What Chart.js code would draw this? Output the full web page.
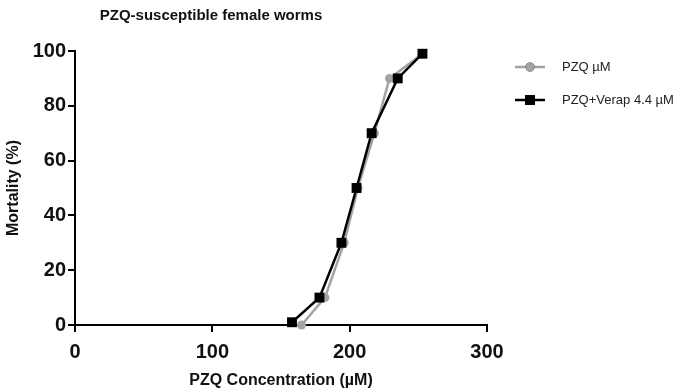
<!DOCTYPE html>
<html>
<head>
<meta charset="utf-8">
<script src="https://cdn.jsdelivr.net/npm/chart.js@4"></script>
<style>
    html, body { margin: 0; padding: 0; background: #fff; }
    #wrap { width: 694px; height: 392px; }
</style>
</head>
<body>
<div id="wrap"><canvas id="chart" width="694" height="392"></canvas></div>
<script>
let chartTitle = 'PZQ-susceptible female worms';
let xTitle = 'PZQ Concentration (µM)';
let yTitle = 'Mortality (%)';

// PZQ alone (grey circles)
let pzqConc = [165, 182, 196, 206, 218, 229, 253];
let pzqMort = [0, 10, 30, 50, 70, 90, 99];

// PZQ + verapamil 4.4 uM (black squares)
let verapConc = [158, 178, 194, 205, 216, 235, 253];
let verapMort = [1, 10, 30, 50, 70, 90, 99];

let xTicks = [0, 100, 200, 300];
let yTicks = [0, 20, 40, 60, 80, 100];

const fontFamily = '"Liberation Sans", Arial, sans-serif';

function toPoints(xs, ys) {
    let pts = [];
    for (let i = 0; i < xs.length; i++) {
        pts.push({ x: xs[i], y: ys[i] });
    }
    return pts;
}

const titlePlugin = {
    id: 'fixed_title',
    afterDraw: (chart) => {
        const ctx = chart.ctx;
        ctx.save();
        ctx.fillStyle = '#111';
        ctx.font = 'bold 15px ' + fontFamily;
        ctx.textAlign = 'center';
        ctx.textBaseline = 'middle';
        ctx.fillText(chartTitle, 211, 16);
        ctx.restore();
    }
};

const legendPlugin = {
    id: 'side_legend',
    afterDraw: (chart) => {
        const ctx = chart.ctx;
        const rows = [67, 100];
        ctx.save();
        chart.data.datasets.forEach((ds, i) => {
            let y = rows[i];
            ctx.strokeStyle = ds.borderColor;
            ctx.lineWidth = ds.borderWidth;
            ctx.beginPath();
            ctx.moveTo(515, y);
            ctx.lineTo(545, y);
            ctx.stroke();
            Chart.helpers.drawPoint(ctx, {
                pointStyle: ds.pointStyle,
                radius: ds.pointRadius,
                borderWidth: 0
            }, 530, y);
            ctx.fillStyle = ds.pointBackgroundColor;
            ctx.fill();
            ctx.fillStyle = '#222';
            ctx.font = '13px ' + fontFamily;
            ctx.textAlign = 'left';
            ctx.textBaseline = 'middle';
            ctx.fillText(ds.label, 562, y);
        });
        ctx.restore();
    }
};

const axisStyle = {
    grid: {
        display: true,
        drawOnChartArea: false,
        drawTicks: true,
        tickLength: 7,
        color: '#000',
        lineWidth: 2
    },
    border: { display: true, color: '#000', width: 2 }
};

const config = {
    type: 'line',
    data: {
        datasets: [
            {
                label: 'PZQ µM',
                data: toPoints(pzqConc, pzqMort),
                borderColor: '#a3a3a3',
                backgroundColor: '#a3a3a3',
                pointBackgroundColor: '#a3a3a3',
                pointBorderWidth: 0,
                borderWidth: 2.5,
                pointStyle: 'circle',
                pointRadius: 4.5,
                order: 1,
                clip: false
            },
            {
                label: 'PZQ+Verap 4.4 µM',
                data: toPoints(verapConc, verapMort),
                borderColor: '#000',
                backgroundColor: '#000',
                pointBackgroundColor: '#000',
                pointBorderWidth: 0,
                borderWidth: 2.5,
                pointStyle: 'rect',
                pointRadius: 7,
                order: 0,
                clip: false
            }
        ]
    },
    options: {
        responsive: false,
        animation: false,
        layout: {
            padding: { top: 51, right: 207, bottom: 0, left: 0 }
        },
        plugins: {
            legend: { display: false },
            tooltip: { enabled: false },
            title: { display: false }
        },
        scales: {
            x: {
                type: 'linear',
                min: 0,
                max: 300,
                afterFit: (scale) => { scale.height = 67; },
                afterBuildTicks: (scale) => {
                    scale.ticks = xTicks.map(v => ({ value: v }));
                },
                ticks: {
                    color: '#111',
                    padding: 8,
                    font: { family: fontFamily, size: 20, weight: 'bold' }
                },
                title: {
                    display: true,
                    text: xTitle,
                    color: '#111',
                    font: { family: fontFamily, size: 16, weight: 'bold' },
                    padding: { top: 0, bottom: 2 }
                },
                ...axisStyle
            },
            y: {
                type: 'linear',
                min: 0,
                max: 100,
                afterFit: (scale) => { scale.width = 75; },
                afterBuildTicks: (scale) => {
                    scale.ticks = yTicks.map(v => ({ value: v }));
                },
                ticks: {
                    color: '#111',
                    padding: 2,
                    font: { family: fontFamily, size: 20, weight: 'bold' }
                },
                title: {
                    display: true,
                    text: yTitle,
                    color: '#111',
                    font: { family: fontFamily, size: 16, weight: 'bold' },
                    padding: { top: 4, bottom: 0 }
                },
                ...axisStyle
            }
        }
    },
    plugins: [titlePlugin, legendPlugin]
};

let chart = new Chart(document.getElementById('chart'), config);
</script>
</body>
</html>
